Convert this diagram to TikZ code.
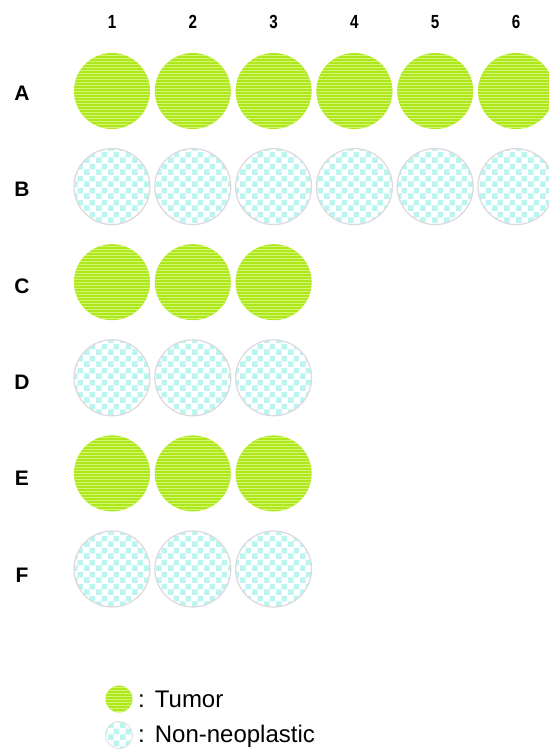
\documentclass[tikz,border=0pt]{standalone}
\usepackage{fontspec}
\setmainfont{Liberation Sans}
\newfontfamily\numfont[FakeStretch=0.8]{Liberation Sans}
\usetikzlibrary{patterns}
\definecolor{tumorgreen}{RGB}{174,232,26}
\definecolor{stripe}{RGB}{212,246,118}
\definecolor{checkcyan}{RGB}{188,244,240}
\definecolor{rimgray}{RGB}{222,216,222}
\pgfdeclarepatternformonly{bigchecker}{\pgfqpoint{0pt}{0pt}}{\pgfqpoint{12pt}{12pt}}{\pgfqpoint{12pt}{12pt}}{\pgfpathrectangle{\pgfqpoint{0pt}{0pt}}{\pgfqpoint{6pt}{6pt}}\pgfpathrectangle{\pgfqpoint{6pt}{6pt}}{\pgfqpoint{6pt}{6pt}}\pgfusepath{fill}}
\tikzset{
  well/.style={circle, inner sep=0pt, minimum size=76pt},
  tumor/.style={well, fill=tumorgreen,
    path picture={\foreach \k in {-13,...,13}{\fill[stripe] (path picture bounding box.center) ++(-40,3*\k) rectangle ++(80,1);}}},
  normal/.style={well, draw=rimgray, line width=1.2pt, pattern=bigchecker, pattern color=checkcyan},
  collabel/.style={font=\numfont\bfseries\fontsize{19}{22}\selectfont, inner sep=0pt},
  rowlabel/.style={font=\bfseries\fontsize{21}{24}\selectfont, inner sep=0pt},
  legtext/.style={font=\fontsize{24}{28}\selectfont, anchor=base west, inner sep=0pt},
}
\begin{document}
\begin{tikzpicture}[x=1pt,y=-1pt]
\useasboundingbox (0,0) rectangle (548,751);
% column labels
\foreach \c in {1,...,6}{
  \pgfmathsetmacro{\xx}{112+80.8*(\c-1)}
  \node[collabel] (col\c) at (\xx,22) {\c};
}
% row labels
\foreach \r/\j in {A/0,B/1,C/2,D/3,E/4,F/5}{
  \pgfmathsetmacro{\yy}{93+96.4*\j}
  \node[rowlabel] (row\r) at (22,\yy) {\r};
}
% wells
\foreach \r/\j/\n/\kind in {A/0/6/tumor,B/1/6/normal,C/2/3/tumor,D/3/3/normal,E/4/3/tumor,F/5/3/normal}{
  \foreach \c in {1,...,\n}{
    \pgfmathsetmacro{\xx}{112+80.8*(\c-1)}
    \pgfmathsetmacro{\yy}{91+95.6*\j}
    \node[\kind] (\r\c) at (\xx,\yy) {};
  }
}
% legend
\node[tumor, minimum size=27pt] (legT) at (119,699) {};
\node[normal, minimum size=27pt, line width=0.6pt] (legN) at (119,735) {};
\node[legtext] (legTtxt) at (138,707) {:\hspace{10pt}Tumor};
\node[legtext] (legNtxt) at (138,742) {:\hspace{10pt}Non-neoplastic};
\end{tikzpicture}
\end{document}
